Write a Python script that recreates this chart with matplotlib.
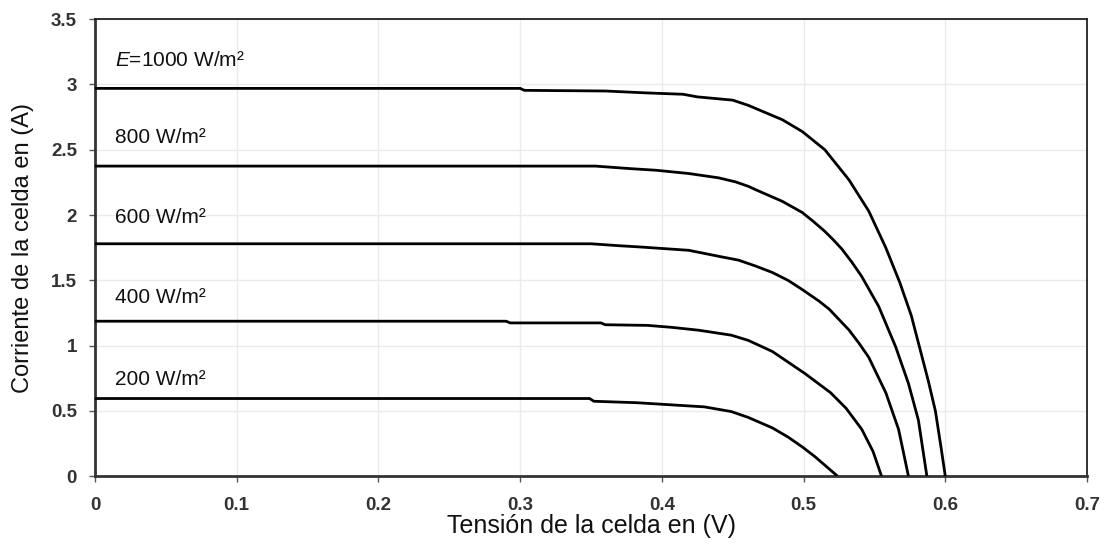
"""
I-V curves of a solar cell at several irradiance levels
"""
import matplotlib
matplotlib.use("Agg")
import matplotlib.pyplot as plt

plt.rcParams['font.family'] = ['Liberation Sans', 'DejaVu Sans']
plt.rcParams['mathtext.fontset'] = 'custom'
plt.rcParams['mathtext.it'] = 'Liberation Sans:italic'
plt.rcParams['mathtext.rm'] = 'Liberation Sans'

# Curves (voltage in V, current in A)
v1000 = [0, 0.30, 0.303, 0.36, 0.39, 0.415, 0.425, 0.45, 0.461, 0.485, 0.499, 0.515,
         0.532, 0.546, 0.558, 0.568, 0.576, 0.582, 0.588, 0.593, 0.597, 0.600]
i1000 = [2.97, 2.97, 2.955, 2.95, 2.935, 2.925, 2.905, 2.88, 2.84, 2.73, 2.64, 2.50,
         2.27, 2.03, 1.75, 1.48, 1.23, 0.98, 0.73, 0.50, 0.22, 0]

v800 = [0, 0.353, 0.377, 0.396, 0.419, 0.440, 0.452, 0.461, 0.466, 0.485, 0.499, 0.507,
        0.515, 0.521, 0.527, 0.534, 0.541, 0.553, 0.565, 0.574, 0.581, 0.587]
i800 = [2.375, 2.375, 2.356, 2.343, 2.318, 2.285, 2.254, 2.22, 2.195, 2.105, 2.02, 1.95,
        1.875, 1.81, 1.74, 1.64, 1.53, 1.30, 0.99, 0.71, 0.43, 0]

v600 = [0, 0.35, 0.37, 0.384, 0.419, 0.442, 0.454, 0.466, 0.478, 0.489, 0.499, 0.511,
        0.518, 0.532, 0.539, 0.546, 0.558, 0.567, 0.574]
i600 = [1.78, 1.78, 1.765, 1.756, 1.73, 1.68, 1.655, 1.61, 1.56, 1.50, 1.43, 1.34,
        1.28, 1.12, 1.02, 0.91, 0.64, 0.36, 0]

v400 = [0, 0.29, 0.293, 0.357, 0.36, 0.39, 0.407, 0.426, 0.449, 0.461, 0.478, 0.501,
        0.519, 0.530, 0.541, 0.549, 0.555]
i400 = [1.187, 1.187, 1.174, 1.174, 1.16, 1.155, 1.14, 1.118, 1.08, 1.04, 0.955, 0.786,
        0.64, 0.52, 0.36, 0.19, 0]

v200 = [0, 0.349, 0.352, 0.382, 0.40, 0.43, 0.449, 0.461, 0.478, 0.489, 0.499, 0.508,
        0.516, 0.524]
i200 = [0.595, 0.595, 0.574, 0.563, 0.551, 0.531, 0.495, 0.45, 0.37, 0.30, 0.225, 0.15,
        0.075, 0]

curves = [(v1000, i1000), (v800, i800), (v600, i600), (v400, i400), (v200, i200)]

# Irradiance labels and where they sit
labels = [r'$E$=1000 W/m²', '800 W/m²', '600 W/m²', '400 W/m²', '200 W/m²']
label_x = [0.014, 0.014, 0.014, 0.014, 0.014]
label_y = [3.185, 2.595, 1.985, 1.37, 0.74]

x_ticks = [0, 0.1, 0.2, 0.3, 0.4, 0.5, 0.6, 0.7]
x_ticklabels = ['0', '0.1', '0.2', '0.3', '0.4', '0.5', '0.6', '0.7']
y_ticks = [0, 0.5, 1, 1.5, 2, 2.5, 3, 3.5]
y_ticklabels = ['0', '0.5', '1', '1.5', '2', '2.5', '3', '3.5']

fig = plt.figure(figsize=(11.10, 5.48), dpi=100)
ax = fig.add_axes([0.0856, 0.131, 0.8937, 0.834])

for v, i in curves:
    ax.plot(v, i, color='black', lw=2.0, solid_capstyle='butt',
            solid_joinstyle='round', zorder=3)

for txt, x, y in zip(labels, label_x, label_y):
    ax.text(x, y, txt, fontsize=15, va='center', ha='left', color='#111111')

ax.set_xlim(0, 0.7)
ax.set_ylim(0, 3.5)
ax.set_xticks(x_ticks)
ax.set_xticklabels(x_ticklabels)
ax.set_yticks(y_ticks)
ax.set_yticklabels(y_ticklabels)

ax.grid(True, color='#ebebeb', lw=1.0, zorder=0)
ax.set_axisbelow(True)

for side in ['top', 'right']:
    ax.spines[side].set_color('#222222')
    ax.spines[side].set_linewidth(1.3)
for side in ['left', 'bottom']:
    ax.spines[side].set_color('#333333')
    ax.spines[side].set_linewidth(2.0)

ax.tick_params(axis='both', length=4, width=1, color='#555555',
               labelsize=13.5, labelcolor='#333333')
ax.tick_params(axis='x', pad=11)
ax.tick_params(axis='y', pad=9)
for lab in ax.get_xticklabels() + ax.get_yticklabels():
    lab.set_fontweight('bold')

ax.set_xlabel('Tensión de la celda en (V)', fontsize=18, color='#111111', labelpad=0)
ax.set_ylabel('Corriente de la celda en (A)', fontsize=17, color='#111111', labelpad=12)

fig.savefig('out.png', dpi=100)
